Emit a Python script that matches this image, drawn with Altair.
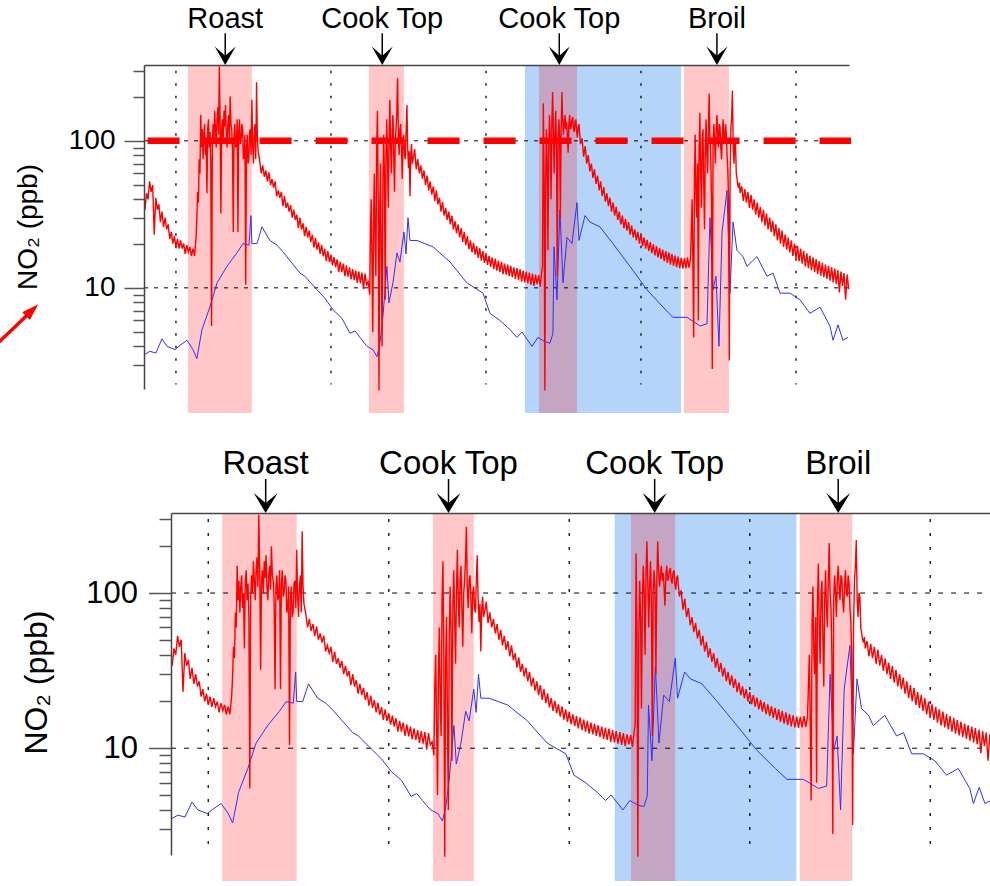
import altair as alt
import pandas as pd

# ---------------- data ----------------
T_MIN, T_MAX = 0.794, 5.342
PPB_MIN, PPB_MAX = 2.05, 328
STANDARD_PPB = 100

# NO2 readings: each segment = start time (h), sampling step (h), values (ppb)
red_starts = [0.80, 1.13, 1.54, 2.24, 2.54, 3.36, 3.62, 4.33, 4.65]
red_steps = [0.01, 0.005, 0.01, 0.005, 0.01, 0.005, 0.01, 0.005, 0.01]
red_pre = [34, 44, 40, 53, 45, 50, 23, 41, 34, 37, 28, 33, 26, 30, 25, 27, 21.5, 24, 20, 22.5,
           19, 21.5, 18.5, 21, 18.5, 20, 17, 19.5, 17.5, 19, 16.5, 18.5, 16.5]
red_roast = [22, 30, 45, 38, 75, 60, 150, 90, 120, 75, 110, 130, 80, 100, 44, 120, 140, 90, 115, 70,
             5.5, 95, 130, 100, 160, 120, 90, 140, 170, 110, 320, 140, 32, 120, 140, 100, 160, 125, 175, 110,
             90, 130, 150, 105, 200, 130, 120, 85, 24, 110, 130, 90, 95, 140, 24, 115, 140, 95, 100, 130,
             120, 75, 80, 110, 10.5, 90, 110, 70, 75, 115, 120, 80, 190, 95, 70, 110, 130, 75, 250, 110,
             85]
red_decay1 = [74, 60, 68, 57, 63, 53, 61, 50, 55, 48, 53, 42, 46, 41, 45, 36, 42, 35, 38, 33,
              36.5, 30, 34, 29, 31.5, 25.5, 30, 25, 27.5, 22.5, 26, 22, 24.5, 20.5, 23, 18.8, 21.8, 18.2, 20.4, 17,
              19.6, 16.4, 18.4, 15.2, 17.8, 15, 16.8, 14.2, 16.2, 13.8, 15.6, 12.8, 15, 12.8, 14.6, 12, 14.2, 11.9, 13.8, 11.4,
              13.4, 11.3, 13.1, 10.8, 12.9, 10.7, 12.7, 9.8, 12.5, 10.5]
red_cook1 = [11, 10, 9, 25, 40, 14, 5, 30, 60, 20, 12, 90, 160, 40, 2.0, 35, 70, 15, 4, 50,
             110, 60, 8.3, 80, 140, 70, 35, 100, 190, 90, 60, 120, 150, 80, 45, 100, 120, 160, 267, 110,
             80, 120, 130, 90, 55, 100, 110, 80, 75, 120, 175, 90, 65, 85, 42, 80, 95, 70, 75, 80]
red_decay2 = [88, 64, 75, 60, 68, 55, 63, 50, 58, 46, 53, 43, 49, 39, 46, 37, 41, 33, 38.5, 31,
              35, 29, 33, 27, 31, 25, 28.5, 23.5, 27, 22, 25.5, 20.5, 24, 19.5, 22.5, 18.3, 21, 17.4, 20.2, 16.8,
              19.2, 16, 18.6, 15.3, 17.8, 14.8, 17.2, 14.3, 16.5, 13.9, 16.1, 13.4, 15.8, 13.1, 15.3, 12.8, 15, 12.4, 14.6, 12.3,
              14.4, 12, 14.1, 11.8, 13.8, 11.5, 13.6, 11.3, 13.4, 11, 13.1, 10.9, 12.9, 10.7, 12.7, 10.5, 12.5, 10.3, 12.3, 10.6,
              12.2, 10.2]
red_cook2 = [13, 14, 180, 60, 2.0, 50, 120, 70, 18, 90, 150, 100, 40, 130, 215, 120, 60, 110, 160, 90,
             12, 100, 140, 110, 30, 120, 215, 140, 110, 130, 150, 120, 135, 110, 83, 130, 150, 120, 125, 140,
             145, 120, 115, 135, 140, 115, 105, 125, 130, 110, 95, 100]
red_decay3 = [104, 78, 92, 70, 80, 62, 70, 56, 64, 51, 58, 46, 53, 42, 48.5, 38.5, 44, 36, 41, 33,
              38, 31, 35.5, 29, 33, 27, 31, 25.5, 29.5, 24.5, 28, 23, 26.5, 22, 25, 21, 24, 20, 23, 19.2,
              22, 18.5, 21.2, 17.8, 20.5, 17.2, 19.8, 16.6, 19.2, 16.1, 18.7, 15.7, 18.2, 15.2, 17.8, 14.8, 17.4, 14.4, 17, 14.1,
              16.6, 13.8, 16.3, 13.6, 16, 13.5, 15.9, 13.6, 16.1, 13.7, 16]
red_broil = [40, 15, 4.6, 60, 110, 40, 30, 70, 6, 90, 155, 60, 35, 100, 120, 50, 25, 90, 140, 80,
             60, 120, 210, 100, 80, 40, 2.8, 90, 130, 100, 70, 120, 150, 110, 90, 130, 125, 90, 75, 110,
             140, 100, 95, 130, 115, 80, 65, 40, 3.2, 60, 120, 150, 220, 90, 70, 100, 95, 60, 55, 50,
             48, 52, 44, 47]
red_decay4 = [49, 39, 47, 38, 45, 35, 43, 34, 40, 31.5, 38, 30, 35.5, 28, 34, 26.5, 32, 25, 30, 24,
              28.5, 22.5, 27, 21, 25.5, 20, 24.5, 19, 23, 18.2, 22, 17.4, 21, 16.5, 20, 15.8, 19.2, 15.2, 18.5, 14.6,
              17.8, 14, 17.2, 13.6, 16.6, 13.2, 16.1, 12.8, 15.7, 12.4, 15.2, 12.1, 14.8, 11.8, 14.4, 11.5, 14.1, 11.2, 13.8, 10.9,
              13.5, 10.6, 13.2, 9.3, 12.9, 10.3, 12.6, 8.3, 12.3, 9.8]
red_segments = [red_pre, red_roast, red_decay1, red_cook1, red_decay2,
                red_cook2, red_decay3, red_broil, red_decay4]

blue_t = [0.794, 0.832, 0.871, 0.910, 0.942, 0.994, 1.032, 1.071, 1.110, 1.135,
          1.168, 1.219, 1.265, 1.329, 1.394, 1.432, 1.471, 1.484, 1.490, 1.523,
          1.535, 1.555, 1.606, 1.652, 1.690, 1.800, 1.832, 1.910, 1.961, 2.013,
          2.071, 2.123, 2.155, 2.187, 2.232, 2.271, 2.297, 2.316, 2.335, 2.361,
          2.374, 2.400, 2.426, 2.445, 2.471, 2.484, 2.497, 2.510, 2.555, 2.658,
          2.768, 2.877, 2.981, 3.026, 3.090, 3.155, 3.200, 3.232, 3.297, 3.335,
          3.381, 3.413, 3.432, 3.439, 3.458, 3.477, 3.497, 3.523, 3.555, 3.587,
          3.600, 3.639, 3.671, 3.735, 3.819, 3.929, 4.039, 4.142, 4.206, 4.297,
          4.381, 4.426, 4.445, 4.465, 4.484, 4.503, 4.523, 4.555, 4.574, 4.594,
          4.619, 4.658, 4.684, 4.748, 4.813, 4.852, 4.897, 4.961, 5.026, 5.090,
          5.155, 5.219, 5.239, 5.271, 5.303, 5.335]
blue_ppb = [3.5, 3.7, 3.6, 4.5, 4.0, 3.8, 4.1, 4.4, 3.8, 3.3,
            5.2, 7.4, 10.8, 14, 17.3, 20, 19.5, 31, 20, 20,
            22, 26, 21, 19.5, 17.6, 12.6, 12, 9.7, 8.5, 7.1,
            6.2, 4.9, 5.1, 4.6, 4.0, 3.8, 3.4, 4.2, 6.3, 14,
            7.9, 10.8, 17.3, 15, 24, 17, 30, 21, 21, 19,
            15, 10.8, 9.2, 6.7, 6.0, 5.2, 4.6, 5.0, 4.0, 4.6,
            4.3, 4.2, 4.9, 19, 8.3, 34, 10.8, 22, 20, 38,
            21, 31, 28, 26, 20, 14, 9.7, 7.4, 6.3, 6.3,
            5.5, 5.7, 30, 9.7, 12, 4.0, 24, 46, 9.2, 28,
            18, 16.3, 14, 16.3, 12, 12.6, 9.2, 9.2, 8.3, 6.7,
            7.4, 5.5, 4.4, 5.6, 4.4, 4.6]

event_labels = ["Roast", "Cook Top", "Cook Top", "Broil"]
event_t = [1.318, 2.331, 3.473, 4.490]
cook_start = [1.077, 2.245, 3.342, 4.277]
cook_end = [1.490, 2.471, 3.587, 4.568]
blue_start = [3.252]
blue_end = [4.258]
major_ticks = [10, 100]
minor_ticks = [3, 4, 5, 6, 7, 8, 9, 20, 30, 40, 50, 60, 70, 80, 90, 200, 300]
hour_grid = [1, 2, 3, 4, 5]

# ---------------- tables ----------------
rows = []
for start, step, seg in zip(red_starts, red_steps, red_segments):
    for i, v in enumerate(seg):
        rows.append({"t": round(start + i * step, 4), "ppb": v})
red_df = pd.DataFrame(rows)
blue_df = pd.DataFrame({"t": blue_t, "ppb": blue_ppb})
events_df = pd.DataFrame({"label": event_labels, "t": event_t})
cook_df = pd.DataFrame({"t0": cook_start, "t1": cook_end, "hi": [PPB_MAX] * len(cook_start)})
blue_shade_df = pd.DataFrame({"t0": blue_start, "t1": blue_end, "hi": [PPB_MAX] * len(blue_start)})
hgrid_df = pd.DataFrame({"ppb": major_ticks, "t0": [T_MIN] * 2, "t1": [T_MAX] * 2})
vgrid_df = pd.DataFrame({"t": hour_grid, "lo": [2.2] * 5, "hi": [300] * 5})
limit_df = pd.DataFrame({"ppb": [STANDARD_PPB], "t0": [0.817], "t1": [5.355]})
minor_df = pd.DataFrame({"ppb": minor_ticks})

FONT = "Liberation Sans, Arial, sans-serif"


def panel(p):
    xs = alt.Scale(domain=[T_MIN, T_MAX], range=p["xr"], nice=False, zero=False)
    ys = alt.Scale(type="log", domain=[PPB_MIN, PPB_MAX], range=p["yr"], nice=False)
    xax = alt.Axis(orient="top", offset=-p["top"], labels=False, ticks=False, grid=False,
                   title=None, domainColor="#444444", domainWidth=1.5, zindex=1)
    yax = alt.Axis(orient="left", offset=-p["left"], values=major_ticks, format="d",
                   tickSize=p["major_tick"], tickColor="#555555", tickWidth=1.5,
                   labelFont=FONT, labelFontSize=p["lab_fs"], labelColor="black",
                   labelPadding=p["lab_pad"], grid=False, title=None,
                   domainColor="#444444", domainWidth=1.5, zindex=1)

    def X(f):
        return alt.X(f, type="quantitative", scale=xs, axis=xax)

    def Y(f):
        return alt.Y(f, type="quantitative", scale=ys, axis=yax)

    blue_shade = alt.Chart(blue_shade_df).mark_rect(color="#B4D4FA").encode(
        x=X("t0"), x2="t1", y=Y("hi"), y2=alt.value(p["shade_bottom"]))
    cook_shade = alt.Chart(cook_df).mark_rect(color="#FF0000", opacity=0.22).encode(
        x=X("t0"), x2="t1", y=Y("hi"), y2=alt.value(p["shade_bottom"]))
    hgrid = alt.Chart(hgrid_df).mark_rule(color="black", strokeWidth=1, strokeDash=p["hdash"]).encode(
        x=X("t0"), x2="t1", y=Y("ppb"))
    vgrid = alt.Chart(vgrid_df).mark_rule(color="#222222", strokeWidth=1.5, strokeDash=p["vdash"]).encode(
        x=X("t"), y=Y("hi"), y2="lo")
    blue_line = alt.Chart(blue_df).mark_line(color="#2F2FFF", strokeWidth=1).encode(
        x=X("t"), y=Y("ppb"))
    red_line = alt.Chart(red_df).mark_line(color="#FF0000", strokeWidth=1.4).encode(
        x=X("t"), y=Y("ppb"))
    shafts = alt.Chart(events_df).mark_rule(color="black", strokeWidth=1.5).encode(
        x=X("t"), y=alt.value(p["shaft"][0]), y2=alt.value(p["shaft"][1]))
    heads = alt.Chart(events_df).mark_point(shape=p["head_path"], filled=True, color="black",
                                            opacity=1, strokeWidth=0, size=p["head_size"]).encode(
        x=X("t"), y=alt.value(p["head_y"]))
    labels = alt.Chart(events_df).mark_text(font=FONT, fontSize=p["ev_fs"], color="black",
                                            align="center", baseline="alphabetic").encode(
        x=X("t"), y=alt.value(p["ev_y"]), text="label:N")
    ytitle = alt.Chart(pd.DataFrame({"a": [0]})).mark_text(
        text="NO₂ (ppb)", font=FONT, fontSize=p["title_fs"], angle=270, color="black",
        align="center", baseline="alphabetic").encode(
        x=alt.value(p["title_x"]), y=alt.value(p["title_y"]))

    layers = [blue_shade, cook_shade, hgrid, vgrid, blue_line, red_line]
    if p["limit"]:
        layers.append(alt.Chart(limit_df).mark_rule(color="#FF0000", strokeWidth=6.5,
                                                    strokeDash=[32, 24], strokeCap="butt").encode(
            x=X("t0"), x2="t1", y=Y("ppb")))
    layers += [shafts, heads, labels, ytitle]
    main = alt.layer(*layers)

    minor_ax = alt.Axis(orient="left", offset=-p["left"], values=minor_ticks, labels=False,
                        tickSize=p["minor_tick"], tickColor="#555555", tickWidth=1.5,
                        domain=False, grid=False, title=None, zindex=1)
    minor = alt.Chart(minor_df).mark_point(opacity=0).encode(
        y=alt.Y("ppb:Q", scale=alt.Scale(type="log", domain=[PPB_MIN, PPB_MAX], range=p["yr"], nice=False),
                axis=minor_ax))
    return main, minor


top_p = dict(xr=[144, 849], yr=[389, 65], left=144, top=65, shade_bottom=413,
             major_tick=20, minor_tick=11, lab_fs=28, lab_pad=9, hdash=[4, 6], vdash=[2.5, 10],
             ev_fs=29, ev_y=28.3, shaft=[33.3, 56], head_y=55.8, head_size=441,
             head_path="M0,0.876 L-1,-0.876 L0,0 L1,-0.876 Z",
             title_x=36.7, title_y=227, title_fs=28, limit=True)
bot_p = dict(xr=[171.1, 992], yr=[855, 513], left=171, top=513, shade_bottom=881,
             major_tick=22.5, minor_tick=12, lab_fs=31, lab_pad=11, hdash=[5, 8], vdash=[3, 11],
             ev_fs=33, ev_y=474, shaft=[479, 503], head_y=503, head_size=576,
             head_path="M0,0.833 L-1,-0.833 L0,0 L1,-0.833 Z",
             title_x=46.7, title_y=682.5, title_fs=32, limit=False)

top_main, top_minor = panel(top_p)
bot_main, bot_minor = panel(bot_p)

# red pointer arrow at the left edge of the upper panel
ptr_df = pd.DataFrame({"a": [0]})
pointer_shaft = alt.Chart(ptr_df).mark_rule(color="#FF0000", strokeWidth=3.5).encode(
    x=alt.value(-3), y=alt.value(344), x2=alt.value(31), y2=alt.value(311.5))
pointer_head = alt.Chart(ptr_df).mark_point(shape="M0,-1 L0.65,1 L-0.65,1 Z", filled=True,
                                            color="#FF0000", opacity=1, strokeWidth=0,
                                            size=289, angle=46).encode(
    x=alt.value(32.2), y=alt.value(310.2))

chart = alt.layer(top_main, top_minor, bot_main, bot_minor, pointer_shaft, pointer_head).resolve_scale(
    x="independent", y="independent"
).properties(
    width=990, height=886, autosize=alt.AutoSizeParams(type="none"), padding=0
).configure_view(stroke=None)

chart.save("out.html", embed_options={"renderer": "svg", "actions": False})
